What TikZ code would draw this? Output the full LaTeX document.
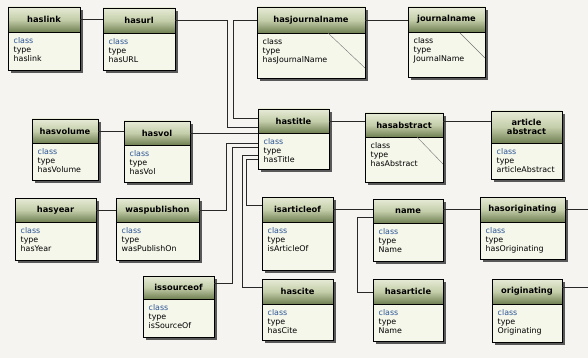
\documentclass[tikz,border=0pt]{standalone}
\usepackage{fontspec}
\setmainfont{DejaVu Sans}
\usetikzlibrary{calc}
\definecolor{bg}{RGB}{245,244,240}
\definecolor{hdrtop}{RGB}{230,235,214}
\definecolor{hdrmid}{RGB}{196,206,170}
\definecolor{hdrbot}{RGB}{112,128,82}
\definecolor{bodyc}{RGB}{245,247,234}
\definecolor{clsblue}{RGB}{45,85,150}
\definecolor{connc}{RGB}{40,40,40}
\tikzset{
  boxbody/.style={draw=black, line width=0.9pt, fill=bodyc, inner sep=0pt, outer sep=0pt},
  hdrshade/.style={top color=hdrtop, bottom color=hdrbot, middle color=hdrmid},
  ttl/.style={font=\fontsize{8.3}{9.5}\selectfont\bfseries, inner sep=0pt, align=center},
  bodytxt/.style={font=\fontsize{7.9}{9}\selectfont, inner sep=0pt, align=left, anchor=north west},
  conn/.style={draw=connc, line width=0.8pt},
  shadowbox/.style={fill=black!65},
  diag/.style={draw=black!55, line width=0.4pt},
}
\newcommand{\ubox}[8]{%
  \fill[shadowbox] (#2+3,#3+3) rectangle (#4+3,#5+3);
  \node[boxbody, anchor=north west, minimum width={#4-#2}, minimum height={#5-#3}] (#1) at (#2,#3) {};
  \shade[hdrshade] (#2,#3) rectangle (#4,#6);
  \draw[line width=0.9pt] (#2,#3) rectangle (#4,#5);
  \draw[line width=0.9pt] (#2,#6) -- (#4,#6);
  \node[ttl] (#1-t) at ({(#2+#4)/2},{(#3+#6)/2}) {#7};
  \node[bodytxt] (#1-b) at (#2+5.5,#6+5.5) {#8};
}
\newcommand{\bc}{\textcolor{clsblue}{class}}
\begin{document}
\begin{tikzpicture}[x=1pt,y=-1pt]
\useasboundingbox (0,0) rectangle (588,358);
\fill[bg] (0,0) rectangle (588,358);
\coordinate (edgeR) at (588,0);

\ubox{haslink}{8}{7}{80}{70}{32}{haslink}{\bc\\type\\haslink}
\ubox{hasurl}{103}{8}{175}{70}{33}{hasurl}{\bc\\type\\hasURL}
\ubox{hasjournalname}{257}{7}{365}{78}{33}{hasjournalname}{class\\type\\hasJournalName}
\draw[diag] (328,33) -- (365,68);
\ubox{journalname}{408}{7}{485}{77}{32}{journalname}{class\\type\\JournalName}
\draw[diag] (460,33) -- (485,58);
\ubox{hastitle}{258}{109}{329}{169}{133}{hastitle}{\bc\\type\\hasTitle}
\ubox{hasvolume}{32}{119}{98}{180}{143}{hasvolume}{\bc\\type\\hasVolume}
\ubox{hasvol}{124}{121}{190}{182}{145}{hasvol}{\bc\\type\\hasVol}
\ubox{hasabstract}{365}{113}{443}{182}{137}{hasabstract}{class\\type\\hasAbstract}
\draw[diag] (417,137) -- (443,164);
\ubox{articleabstract}{491}{111}{562}{179}{143}{article\\abstract}{\bc\\type\\articleAbstract}
\ubox{hasyear}{15}{198}{96}{260}{222}{hasyear}{\bc\\type\\hasYear}
\ubox{waspublishon}{116}{198}{199}{260}{222}{waspublishon}{\bc\\type\\wasPublishOn}
\ubox{issourceof}{143}{276}{214}{337}{299}{issourceof}{\bc\\type\\isSourceOf}
\ubox{isarticleof}{262}{197}{333}{270}{222}{isarticleof}{\bc\\type\\isArticleOf}
\ubox{hascite}{262}{279}{333}{340}{304}{hascite}{\bc\\type\\hasCite}
\ubox{name}{373}{199}{443}{261}{223}{name}{\bc\\type\\Name}
\ubox{hasoriginating}{480}{197}{565}{259}{222}{hasoriginating}{\bc\\type\\hasOriginating}
\ubox{hasarticle}{373}{279}{443}{341}{304}{hasarticle}{\bc\\type\\Name}
\ubox{originating}{492}{279}{562}{342}{304}{originating}{\bc\\type\\Originating}

% connectors
\draw[conn] (haslink-t -| haslink.east) -- (haslink-t -| hasurl.west);
\draw[conn] (hasurl-t -| hasurl.east) -| ($(hastitle.west)+(-31,-12)$) -- ($(hastitle.west)+(0,-12)$);
\draw[conn] (hasjournalname-t -| hasjournalname.west) -| ($(hastitle.west)+(-25,-21)$) -- ($(hastitle.west)+(0,-21)$);
\draw[conn] (hasjournalname-t -| hasjournalname.east) -- (hasjournalname-t -| journalname.west);
\draw[conn] (hasvolume-t -| hasvolume.east) -- (hasvolume-t -| hasvol.west);
\draw[conn] (hasvol-t -| hasvol.east) -- (hasvol-t -| hastitle.west);
\draw[conn] (hastitle-t -| hastitle.east) -- (hastitle-t -| hasabstract.west);
\draw[conn] (hastitle-t -| hasabstract.east) -- (hastitle-t -| articleabstract.west);
\draw[conn] (hasyear-t -| hasyear.east) -- (hasyear-t -| waspublishon.west);
\draw[conn] (waspublishon-t -| waspublishon.east) -| ($(hastitle.west)+(-32,4)$) -- ($(hastitle.west)+(0,4)$);
\draw[conn] ($(issourceof.north east)+(0,7)$) -| ($(hastitle.west)+(-26,8)$) -- ($(hastitle.west)+(0,8)$);
\draw[conn] ($(hascite.north west)+(0,8)$) -| ($(hastitle.west)+(-16,16)$) -- ($(hastitle.west)+(0,16)$);
\draw[conn] ($(isarticleof.north west)+(0,8)$) -| ($(hastitle.west)+(-12,20)$) -- ($(hastitle.west)+(0,20)$);
\draw[conn] (isarticleof-t -| isarticleof.east) -- (isarticleof-t -| name.west);
\draw[conn] (isarticleof-t -| name.east) -- (isarticleof-t -| hasoriginating.west);
\draw[conn] (hasoriginating-t -| hasoriginating.east) -- (hasoriginating-t -| edgeR);
\draw[conn] ($(name.north west)+(0,18)$) -| ($(hasarticle.north west)+(-16,13)$) -- ($(hasarticle.north west)+(0,13)$);
\draw[conn] ($(originating.north east)+(0,8)$) -- ($(originating.north east)+(26,8)$);
\end{tikzpicture}
\end{document}
